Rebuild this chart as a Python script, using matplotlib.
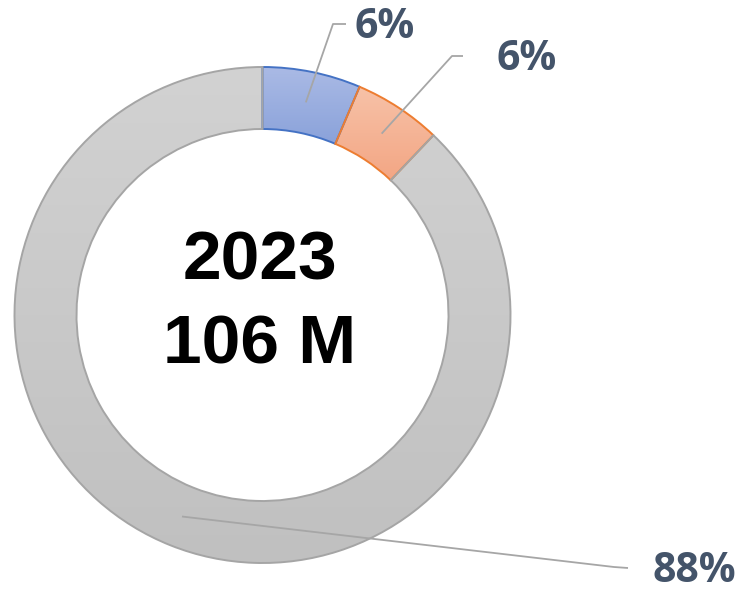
import numpy as np
import matplotlib
matplotlib.use("Agg")
import matplotlib.pyplot as plt
from matplotlib.colors import LinearSegmentedColormap

# data
shares = [6.4, 5.7, 87.9]
top_colors = ["#aabae5", "#f7c2a8", "#d2d2d2"]
bottom_colors = ["#8aa2da", "#f3a684", "#c0c0c0"]
edge_colors = ["#4472c4", "#ed7d31", "#a5a5a5"]
center_lines = ["2023", "106 M"]

W, H = 739, 591
cx, cy = 262.5, H - 315
R, ring = 248, 62

fig = plt.figure(figsize=(W / 100, H / 100), dpi=100)
ax = fig.add_axes([0, 0, 1, 1])

wedges, _ = ax.pie(shares, center=(cx, cy), radius=R, startangle=90,
                   counterclock=False,
                   wedgeprops=dict(width=ring, linewidth=1.4))

for w, ctop, cbot, ec in zip(wedges, top_colors, bottom_colors, edge_colors):
    w.set_facecolor("none")
    w.set_edgecolor(ec)
    w.set_zorder(3)
    ext = w.get_path().get_extents()
    cmap = LinearSegmentedColormap.from_list("g", [ctop, cbot])
    grad = np.linspace(0, 1, 256).reshape(-1, 1)
    im = ax.imshow(grad, cmap=cmap, aspect="auto", origin="upper",
                   extent=(ext.x0, ext.x1, ext.y0, ext.y1), zorder=2,
                   interpolation="bilinear")
    im.set_clip_path(w)

# leader lines + labels (elbow and text positions in pixel coords)
elbows = [((333, 24), (346, 24)), ((452, 56), (463, 56)), ((614, 567), (628, 568))]
text_pos = [(354, 28), (496, 60), (652, 571)]
r_mid = R - ring / 2
cum = 0
for share, (e1, e2), (tx, ty) in zip(shares, elbows, text_pos):
    mid = cum + share / 2
    cum += share
    ang = np.deg2rad(90 - 360 * mid / 100)
    ax_ = cx + r_mid * np.cos(ang)
    ay_ = cy + r_mid * np.sin(ang)
    ax.plot([ax_, e1[0], e2[0]], [ay_, H - e1[1], H - e2[1]],
            color="#a6a6a6", lw=1.3, zorder=4, solid_capstyle="butt")
    ax.text(tx, H - ty, f"{round(share)}%", fontsize=29.5, fontweight="bold",
            family="Open Sans", color="#44546a", ha="left", va="center", zorder=5)

ax.text(260, H - 280, center_lines[0], fontsize=50, fontweight="bold",
        family="Liberation Sans", ha="center", va="baseline", color="black")
ax.text(260, H - 364, center_lines[1], fontsize=50, fontweight="bold",
        family="Liberation Sans", ha="center", va="baseline", color="black")

ax.set_xlim(0, W)
ax.set_ylim(0, H)
ax.set_aspect("auto")
ax.axis("off")

fig.savefig("out.png", dpi=100)
